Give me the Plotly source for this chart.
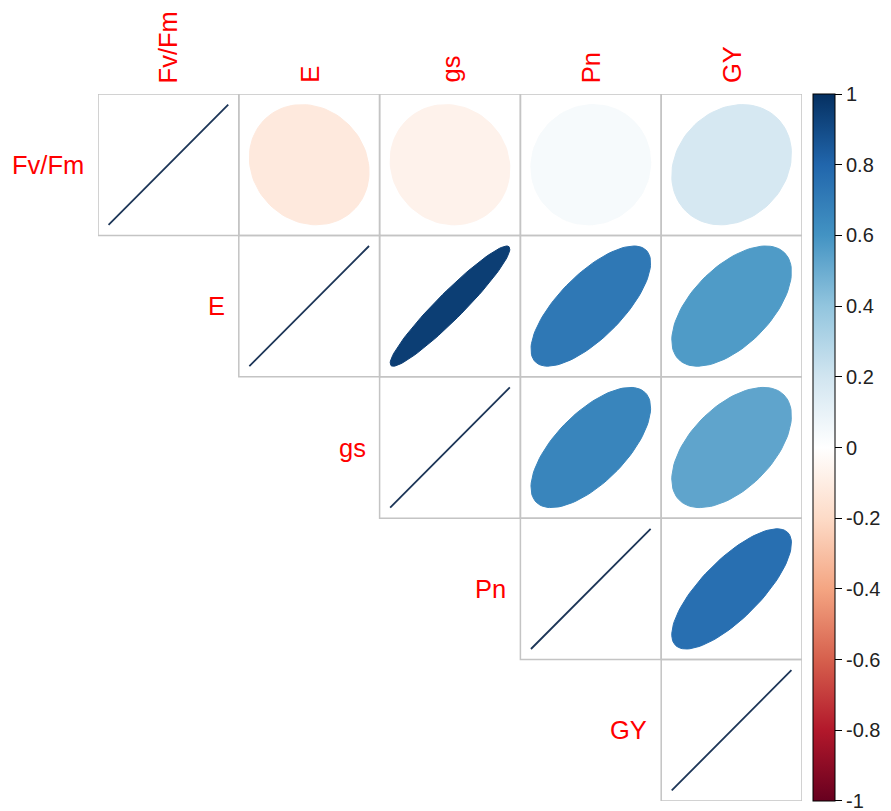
import numpy as np
import plotly.graph_objects as go
from plotly.colors import sample_colorscale

# Variables and their pairwise correlation coefficients (upper triangle)
variables = ["Fv/Fm", "E", "gs", "Pn", "GY"]
corr_fvfm = [1.00, -0.12, -0.07, 0.04, 0.18]
corr_e = [None, 1.00, 0.95, 0.72, 0.57]
corr_gs = [None, None, 1.00, 0.66, 0.53]
corr_pn = [None, None, None, 1.00, 0.76]
corr_gy = [None, None, None, None, 1.00]
corr_rows = [corr_fvfm, corr_e, corr_gs, corr_pn, corr_gy]

# Colour bar tick labels
bar_ticks = [1, 0.8, 0.6, 0.4, 0.2, 0, -0.2, -0.4, -0.6, -0.8, -1]
bar_labels = ["1", "0.8", "0.6", "0.4", "0.2", "0", "-0.2", "-0.4", "-0.6", "-0.8", "-1"]

# Diverging red-white-blue palette
palette = ["#67001F", "#B2182B", "#D6604D", "#F4A582", "#FDDBC7", "#FFFFFF",
           "#D1E5F0", "#92C5DE", "#4393C3", "#2166AC", "#053061"]
colorscale = [[i / (len(palette) - 1), c] for i, c in enumerate(palette)]

FONT = "Arial, Liberation Sans, sans-serif"
n = len(variables)


def ellipse_path(rho, cx, cy, npts=99, scale=0.85):
    k = np.linspace(0, 2 * np.pi, npts)
    a = np.arccos(np.clip(rho, -1, 1)) / 2
    x = cx + scale * np.cos(k + a) / 2
    y = cy + scale * np.cos(k - a) / 2
    return x, y


fig = go.Figure()
shapes = []

for i, row in enumerate(corr_rows):
    cy = n - i
    for j, rho in enumerate(row):
        if rho is None:
            continue
        cx = j + 1
        # cell border
        shapes.append(dict(type="rect", xref="x", yref="y",
                           x0=cx - 0.5, x1=cx + 0.5, y0=cy - 0.5, y1=cy + 0.5,
                           line=dict(color="#C4C4C4", width=1.5), layer="below"))
        col = sample_colorscale(colorscale, [(rho + 1) / 2])[0]
        ex, ey = ellipse_path(rho, cx, cy)
        if i == j:
            fig.add_trace(go.Scatter(x=ex, y=ey, mode="lines",
                                     line=dict(color="#1d3658", width=1.8),
                                     hoverinfo="skip", showlegend=False))
        else:
            fig.add_trace(go.Scatter(x=ex, y=ey, mode="lines", fill="toself",
                                     fillcolor=col, line=dict(color=col, width=1),
                                     hoverinfo="skip", showlegend=False))

# Colour bar carrier trace
fig.add_trace(go.Scatter(
    x=[None], y=[None], mode="markers", showlegend=False, hoverinfo="skip",
    marker=dict(color=[0], cmin=-1.0001, cmax=1.0001, colorscale=colorscale,
                showscale=True,
                colorbar=dict(
                    thickness=22, thicknessmode="pixels",
                    len=707, lenmode="pixels",
                    x=(817 - 98) / 708, xanchor="left",
                    y=1, yanchor="top", xpad=0, ypad=0,
                    outlinewidth=1, outlinecolor="black",
                    ticks="outside", ticklen=7, tickcolor="black", tickwidth=1,
                    tickvals=bar_ticks, ticktext=bar_labels,
                    ticklabeloverflow="allow",
                    tickfont=dict(family=FONT, size=20, color="#222222"),
                ))))

annotations = []
for j, name in enumerate(variables):
    # column labels along the top
    annotations.append(dict(x=j + 1, y=n + 0.5, xref="x", yref="y", text=name,
                            showarrow=False, textangle=-90, xanchor="center",
                            yanchor="bottom", yshift=9,
                            font=dict(family=FONT, size=25.5, color="#FF0000")))
    # row labels next to the diagonal
    annotations.append(dict(x=j + 0.5, y=n - j, xref="x", yref="y", text=name,
                            showarrow=False, xanchor="right", yanchor="middle",
                            xshift=-12,
                            font=dict(family=FONT, size=25.5, color="#FF0000")))

fig.update_layout(
    width=891, height=811,
    margin=dict(l=98, r=85, t=94, b=10),
    paper_bgcolor="white", plot_bgcolor="white",
    xaxis=dict(range=[0.5, n + 0.5], visible=False, fixedrange=True),
    yaxis=dict(range=[0.5, n + 0.5], visible=False, fixedrange=True),
    shapes=shapes, annotations=annotations,
)

fig.write_html("out.html")
